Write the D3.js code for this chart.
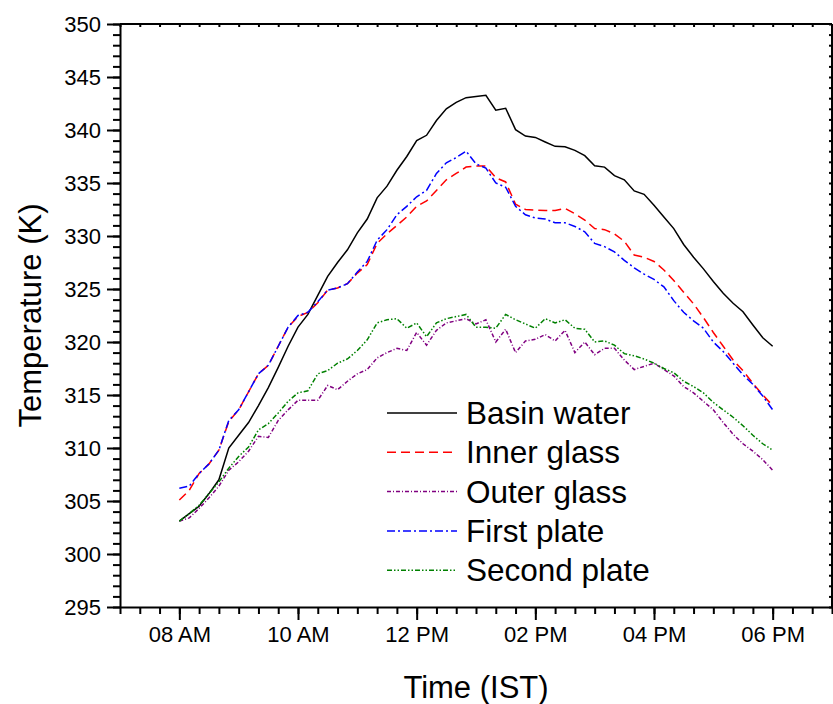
<!DOCTYPE html>
<html>
<head>
<meta charset="utf-8">
<script src="https://cdn.jsdelivr.net/npm/d3@7"></script>
<style>
  body { margin: 0; background: #fff; }
  svg text { font-family: "Liberation Sans", Arial, sans-serif; fill: #000; }
  .axis path, .axis line { stroke: #000; stroke-width: 2; }
  .series { fill: none; stroke-width: 1.5; }
</style>
</head>
<body>
<div id="chart"></div>
<script>
      // readings every 10 minutes
      var times = [
        "08:00","08:10","08:20","08:30","08:40","08:50",
        "09:00","09:10","09:20","09:30","09:40","09:50",
        "10:00","10:10","10:20","10:30","10:40","10:50",
        "11:00","11:10","11:20","11:30","11:40","11:50",
        "12:00","12:10","12:20","12:30","12:40","12:50",
        "13:00","13:10","13:20","13:30","13:40","13:50",
        "14:00","14:10","14:20","14:30","14:40","14:50",
        "15:00","15:10","15:20","15:30","15:40","15:50",
        "16:00","16:10","16:20","16:30","16:40","16:50",
        "17:00","17:10","17:20","17:30","17:40","17:50",
        "18:00"];

      var basinWater = [303.1,303.8,304.5,305.7,307.0,310.0,311.2,312.4,314.0,315.7,317.6,319.6,
        321.4,322.6,324.4,326.2,327.5,328.7,330.3,331.6,333.6,334.7,336.2,337.5,339.0,339.5,
        340.9,342.0,342.6,343.05,343.15,343.27,341.86,342.05,340.03,339.43,339.3,338.87,338.46,
        338.42,338.08,337.58,336.63,336.5,335.7,335.3,334.25,333.93,332.9,331.8,330.7,329.2,
        328.0,326.9,325.7,324.6,323.65,322.85,321.6,320.4,319.6];

      var innerGlass = [305.1,306.0,307.6,308.5,309.8,312.5,313.6,315.3,317.0,317.8,319.6,321.4,
        322.4,322.8,323.7,324.9,325.1,325.5,326.5,327.3,329.3,330.2,331.0,331.8,332.8,333.3,
        334.3,335.3,335.9,336.5,336.6,336.6,335.5,335.1,333.0,332.5,332.45,332.4,332.4,332.6,
        332.1,331.5,330.7,330.6,330.2,329.5,328.2,328.0,327.6,326.8,325.8,324.7,323.6,322.3,
        320.9,319.6,318.3,317.3,316.1,315.0,314.0];

      var outerGlass = [303.1,303.4,304.3,305.3,306.4,307.9,308.7,309.7,311.1,311.0,312.6,313.6,
        314.5,314.5,314.5,315.9,315.5,316.3,317.0,317.4,318.5,319.0,319.4,319.2,320.9,319.7,
        321.1,321.8,322.0,322.2,321.7,322.1,320.0,321.2,319.0,320.1,320.25,320.7,320.1,321.1,
        319.0,320.0,318.8,319.4,319.4,318.3,317.4,317.7,318.0,317.4,316.8,315.8,315.2,314.4,
        313.6,312.4,311.3,310.4,309.7,308.9,307.9];

      var firstPlate = [306.2,306.4,307.6,308.5,309.8,312.6,313.6,315.3,317.0,317.8,319.6,321.4,
        322.5,322.8,323.8,324.9,325.1,325.5,326.6,327.6,329.6,330.6,332.0,332.8,333.7,334.3,
        335.9,336.9,337.4,338.0,336.8,336.4,335.0,334.6,332.8,332.0,331.7,331.6,331.25,331.25,
        330.9,330.4,329.3,329.0,328.5,327.7,327.0,326.4,325.9,325.2,323.9,322.8,322.0,321.3,
        320.0,319.1,318.0,316.9,316.0,314.9,313.6];

      var secondPlate = [303.1,303.8,304.6,305.7,306.8,308.1,309.2,310.1,311.7,312.3,313.3,314.4,
        315.2,315.4,317.0,317.3,318.0,318.4,319.2,320.2,321.8,322.1,322.2,321.3,321.8,320.5,
        321.8,322.2,322.4,322.6,321.4,321.4,321.3,322.6,322.1,321.7,321.3,322.2,321.8,322.1,
        321.3,321.2,320.0,320.1,319.7,318.9,318.7,318.4,318.0,317.5,317.1,316.3,315.8,315.2,
        314.3,313.6,312.9,312.1,311.2,310.4,309.8];

      var seriesNames = ["Basin water", "Inner glass", "Outer glass", "First plate", "Second plate"];
      var seriesColors = ["#000000", "#ff0000", "#800080", "#0000ff", "#008000"];
      var seriesDash = ["none", "9,5", "4,2,1,2", "8,3,2,3", "5,2,1.5,2,1.5,2"];

      var xTickValues = ["08:00", "10:00", "12:00", "14:00", "16:00", "18:00"];
      var xTickLabels = ["08 AM", "10 AM", "12 PM", "02 PM", "04 PM", "06 PM"];
      var yTicks = [295, 300, 305, 310, 315, 320, 325, 330, 335, 340, 345, 350];

      var margin = {top: 24, right: 1, bottom: 97, left: 120};
      var width = 833 - margin.left - margin.right,
          height = 704 - margin.top - margin.bottom;

      var svg = d3.select("#chart").append("svg")
          .attr("width", 833)
          .attr("height", 704);
      var canvas = svg.append("g")
          .attr("transform", "translate(" + margin.left + "," + margin.top + ")");

      function toHours(s) {
          var p = s.split(":");
          return +p[0] + (+p[1]) / 60;
      }

      ////// Define Scales /////////////////
      var xScale = d3.scaleLinear()
          .domain([7, 19])
          .range([0, width]);
      var yScale = d3.scaleLinear()
          .domain([295, 350])
          .range([height, 0]);

      var xMinor = d3.range(7, 19.01, 1 / 3);
      var yMinor = d3.range(295, 350.5, 1);

      // minor ticks first
      canvas.append("g")
          .attr("class", "axis")
          .attr("transform", "translate(0," + height + ")")
          .call(d3.axisBottom(xScale).tickValues(xMinor).tickSize(7).tickFormat(""))
          .select(".domain").remove();
      canvas.append("g")
          .attr("class", "axis")
          .call(d3.axisLeft(yScale).tickValues(yMinor).tickSize(7).tickFormat(""))
          .select(".domain").remove();
      // small inner ticks on top and right
      canvas.append("g")
          .attr("class", "axis")
          .call(d3.axisTop(xScale).tickValues(xMinor).tickSize(-3).tickFormat(""))
          .select(".domain").remove();
      canvas.append("g")
          .attr("class", "axis")
          .attr("transform", "translate(" + width + ",0)")
          .call(d3.axisRight(yScale).tickValues(yMinor).tickSize(-3).tickFormat(""))
          .select(".domain").remove();

      // major axes
      var xAxis = d3.axisBottom(xScale)
          .tickValues(xTickValues.map(toHours))
          .tickSize(13).tickSizeOuter(0)
          .tickPadding(6)
          .tickFormat(function(d, i) { return xTickLabels[i]; });
      var yAxis = d3.axisLeft(yScale)
          .tickValues(yTicks)
          .tickSize(13).tickSizeOuter(0)
          .tickPadding(6);

      canvas.append("g")
          .attr("class", "x axis")
          .attr("transform", "translate(0," + height + ")")
          .call(xAxis)
          .selectAll("text").style("font-size", "22px");
      canvas.append("g")
          .attr("class", "y axis")
          .call(yAxis)
          .selectAll("text").style("font-size", "22px");

      // frame top and right
      canvas.append("line").attr("x1", 0).attr("x2", width).attr("y1", 0).attr("y2", 0)
          .attr("stroke", "#000").attr("stroke-width", 2);
      canvas.append("line").attr("x1", width).attr("x2", width).attr("y1", 0).attr("y2", height)
          .attr("stroke", "#000").attr("stroke-width", 2);

      // series
      var allSeries = [basinWater, innerGlass, outerGlass, firstPlate, secondPlate];
      var line = d3.line()
          .x(function(d, i) { return xScale(toHours(times[i])); })
          .y(function(d) { return yScale(d); });

      allSeries.forEach(function(values, k) {
          canvas.append("path")
              .datum(values)
              .attr("class", "series")
              .attr("stroke", seriesColors[k])
              .attr("stroke-dasharray", seriesDash[k])
              .attr("d", line);
      });

      // legend
      var legend = canvas.append("g")
          .attr("transform", "translate(267,389)");
      seriesNames.forEach(function(name, k) {
          var row = legend.append("g").attr("transform", "translate(0," + (k * 39.3) + ")");
          row.append("line")
              .attr("x1", 0).attr("x2", 70)
              .attr("y1", 0).attr("y2", 0)
              .attr("stroke", seriesColors[k])
              .attr("stroke-width", 1.5)
              .attr("stroke-dasharray", seriesDash[k]);
          row.append("text")
              .attr("x", 79)
              .attr("dy", "0.35em")
              .style("font-size", "31.5px")
              .text(name);
      });

      // axis titles
      svg.append("text")
          .attr("x", margin.left + width / 2)
          .attr("y", 698)
          .attr("text-anchor", "middle")
          .style("font-size", "31px")
          .text("Time (IST)");
      svg.append("text")
          .attr("transform", "translate(41," + (margin.top + height / 2) + ") rotate(-90)")
          .attr("text-anchor", "middle")
          .style("font-size", "31px")
          .text("Temperature (K)");
</script>
</body>
</html>
